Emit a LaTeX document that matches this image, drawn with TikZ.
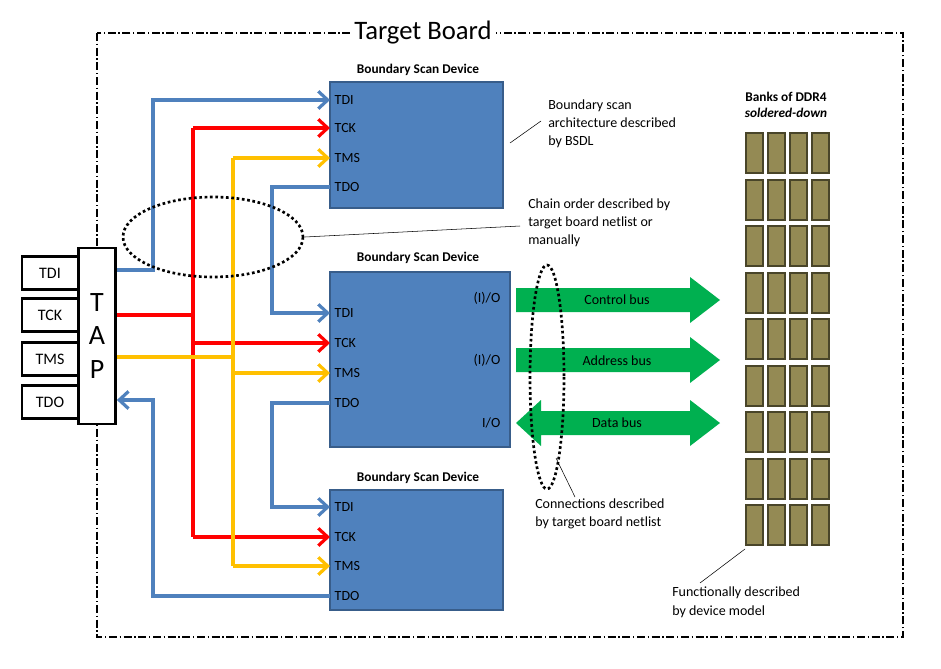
\documentclass[tikz,border=0pt]{standalone}
\usepackage{fontspec}
\setmainfont{Carlito}
\usetikzlibrary{arrows.meta}
\definecolor{devblue}{RGB}{79,129,189}
\definecolor{devedge}{RGB}{56,93,138}
\definecolor{sigred}{RGB}{255,0,0}
\definecolor{sigyel}{RGB}{255,192,0}
\definecolor{busgreen}{RGB}{0,176,80}
\definecolor{chipfill}{RGB}{148,138,84}
\definecolor{chipedge}{RGB}{73,69,41}
\begin{document}
\begin{tikzpicture}[x=0.75pt,y=-0.75pt]
    \tikzset{
        device/.style={draw=devedge, line width=1.5pt, fill=devblue},
        pin/.style={anchor=west, font=\fontsize{10.5}{12}\selectfont},
        title/.style={font=\bfseries\fontsize{10}{12}\selectfont},
        note/.style={align=left, anchor=north west, font=\fontsize{10.5}{13.5}\selectfont, inner sep=0pt},
        wire/.style={line width=3pt},
        sig/.style={wire, -{Straight Barb[length=7pt,width=13pt,line width=2.4pt]}},
        port/.style={draw, line width=1.8pt, fill=white, minimum width=42pt, minimum height=25pt, font=\fontsize{12}{14}\selectfont}
    }
    \useasboundingbox (0,0) rectangle (941,668);

    % board frame
    \draw[line width=1pt, dash pattern=on 6pt off 2pt on 1pt off 2pt] (97,33) rectangle (903,637);
    \node[fill=white, font=\fontsize{20}{22}\selectfont] (board) at (423,33) {Target Board};

    % devices
    \draw[device] (330,82) rectangle (503,208);
    \draw[device] (330,272) rectangle (510,447);
    \draw[device] (330,490) rectangle (503,610);
    \node[title] (t1) at (418,70) {Boundary Scan Device};
    \node[title] (t2) at (418,258) {Boundary Scan Device};
    \node[title] (t3) at (418,478) {Boundary Scan Device};

    \foreach \nm/\y in {TDI/100, TCK/128, TMS/158, TDO/187}
        \coordinate (a\nm) at (330,\y);
    \foreach \nm/\y in {TDI/313, TCK/343, TMS/373, TDO/403}
        \coordinate (b\nm) at (330,\y);
    \foreach \nm/\y in {TDI/507, TCK/537, TMS/566, TDO/596}
        \coordinate (c\nm) at (330,\y);
    \foreach \d in {a,b,c}
        \foreach \nm in {TDI,TCK,TMS,TDO}
            \node[pin] at (\d\nm) {\nm};
    \node[pin, anchor=east] (io1) at (505,298) {(I)/O};
    \node[pin, anchor=east] (io2) at (505,360) {(I)/O};
    \node[pin, anchor=east] (io3) at (505,423) {I/O};

    % TAP and ports
    \node[draw, line width=1.8pt, fill=white, minimum width=28pt, minimum height=132pt,
          align=center, font=\fontsize{21}{25}\selectfont] (tap) at (97,336) {T\\A\\P};
    \node[port] (pTDI) at (50,273) {TDI};
    \node[port] (pTCK) at (50,315) {TCK};
    \node[port] (pTMS) at (50,359) {TMS};
    \node[port] (pTDO) at (50,402) {TDO};

    % TDI / TDO chain
    \draw[sig, devblue] (tap.east |- 0,270) -| (153,100) -- (aTDI);
    \draw[sig, devblue] (aTDO) -| (272,313) -- (bTDI);
    \draw[sig, devblue] (bTDO) -| (272,507) -- (cTDI);
    \draw[sig, devblue] (cTDO) -| (153,400) -- (tap.east |- 0,400);

    % TCK
    \draw[wire, sigred] (tap.east |- 0,315) -- (193,315);
    \draw[wire, sigred] (193,128) -- (193,537);
    \foreach \p in {aTCK,bTCK,cTCK}
        \draw[sig, sigred] (193,0 |- \p) -- (\p);

    % TMS
    \draw[wire, sigyel] (tap.east |- 0,357) -- (233,357);
    \draw[wire, sigyel] (233,158) -- (233,566);
    \foreach \p in {aTMS,bTMS,cTMS}
        \draw[sig, sigyel] (233,0 |- \p) -- (\p);

    % chain order note
    \draw[line width=2pt, dotted] (213,237) ellipse (90 and 40);
    \node[note] (chain) at (528,199) {Chain order described by\\target board netlist or\\manually};
    \draw (305,237) -- (520,226);

    % BSDL note
    \node[note] (bsdl) at (548,100) {Boundary scan\\architecture described\\by BSDL};
    \draw (510,143) -- (541,121);

    % buses
    \fill[busgreen] (516,288) -- (690,288) -- (690,277) -- (720,300) -- (690,323) -- (690,312) -- (516,312) -- cycle;
    \fill[busgreen] (516,348) -- (690,348) -- (690,337) -- (720,360) -- (690,383) -- (690,372) -- (516,372) -- cycle;
    \fill[busgreen] (541,411) -- (690,411) -- (690,400) -- (720,423) -- (690,446) -- (690,435) -- (541,435) -- (541,446) -- (516,423) -- (541,400) -- cycle;
    \node[font=\fontsize{10.5}{12}\selectfont] (cbus) at (617,300) {Control bus};
    \node[font=\fontsize{10.5}{12}\selectfont] (abus) at (617,361) {Address bus};
    \node[font=\fontsize{10.5}{12}\selectfont] (dbus) at (617,423) {Data bus};

    % connections note
    \draw[line width=2pt, dotted] (547,377) ellipse (17 and 112);
    \draw (556,458) -- (575,497);
    \node[note] (conn) at (535,499) {Connections described\\by target board netlist};

    % DDR4 banks
    \node[title, align=center] (ddr) at (786,105) {Banks of DDR4\\\textit{soldered-down}};
    \foreach \r in {0,...,8}
        \foreach \c in {0,...,3}
            \draw[line width=1.5pt, draw=chipedge, fill=chipfill]
                (746+22*\c,133+46.5*\r) rectangle +(17,40);
    \draw (745,549) -- (700,583);
    \node[note] (model) at (672,587) {Functionally described\\by device model};
\end{tikzpicture}
\end{document}
